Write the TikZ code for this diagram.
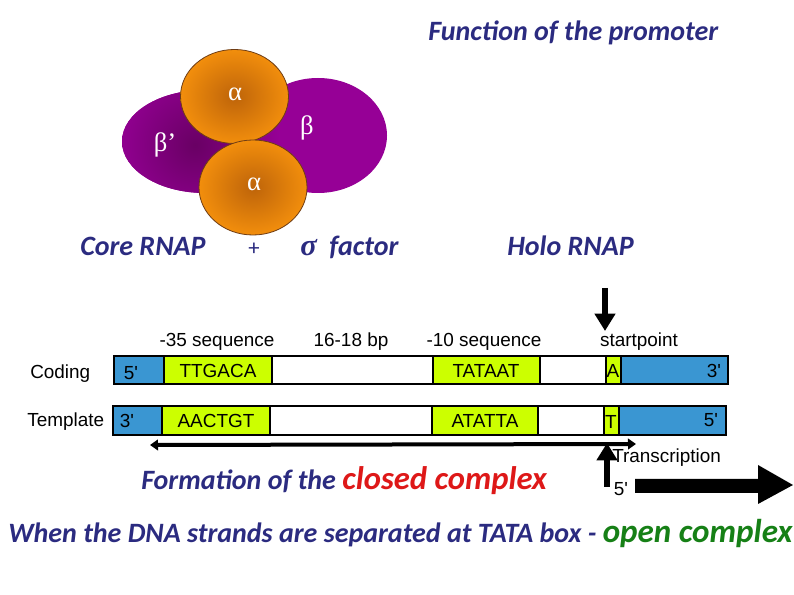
\documentclass[tikz,border=0pt]{standalone}
\usepackage{fontspec}
\setmainfont{Carlito}
\newfontfamily\arialf{Liberation Sans}
\newfontfamily\timesf{Liberation Serif}
\usetikzlibrary{arrows.meta}
\definecolor{navy}{RGB}{43,43,128}
\definecolor{redt}{RGB}{222,24,24}
\definecolor{greent}{RGB}{22,128,22}
\definecolor{purp}{RGB}{150,0,150}
\definecolor{purpD}{RGB}{105,0,100}
\definecolor{orL}{RGB}{242,142,12}
\definecolor{orD}{RGB}{190,100,10}
\definecolor{orEdge}{RGB}{110,60,20}
\definecolor{dnablue}{RGB}{58,150,210}
\definecolor{dnayel}{RGB}{204,255,0}
\tikzset{
  slide/.style={font=\fontsize{21}{24}\selectfont\bfseries\itshape, text=navy, inner sep=0pt},
  greek/.style={font=\timesf\fontsize{20}{22}\selectfont, text=white, inner sep=0pt},
  dnalab/.style={font=\arialf\fontsize{14.2}{17}\selectfont, inner sep=0pt},
  seg/.style={draw=black, line width=0.9pt},
  orangeball/.style={inner color=orD, outer color=orL, draw=orEdge, line width=0.6pt},
  thinarrow/.style={line width=3pt, {Triangle[length=6pt,width=8pt]}-{Triangle[length=6pt,width=8pt]}},
  fatarrow/.style={line width=4.5pt, -{Triangle[length=13pt,width=15pt]}}
}
\begin{document}
\begin{tikzpicture}[x=0.75pt,y=-0.75pt]
\useasboundingbox (0,0) rectangle (794,595);
\fill[white] (0,0) rectangle (794,595);

% title
\node[slide, anchor=base west] (title) at (428,41) {Function of the promoter};

% purple beta subunits
\begin{scope}
  \clip (205,141.5) ellipse [x radius=83, y radius=51.5]
        (318,135.5) ellipse [x radius=69, y radius=57.5];
  \fill[purp] (100,60) rectangle (400,210);
  \shade[inner color=purpD, outer color=purp] (195,145) circle [radius=85];
\end{scope}

% alpha subunits
\shadedraw[orangeball] (234.5,96.5) ellipse [x radius=54, y radius=47];
\shadedraw[orangeball] (253,187.5) ellipse [x radius=54, y radius=47.5];

\node[greek] (a1) at (235,94) {α};
\node[greek] (a2) at (254,184) {α};
\node[greek] (b) at (307,128) {β};
\node[greek] (bp) at (165,145) {β’};

% labels row
\node[slide, anchor=base west] (core) at (80,256) {Core RNAP};
\node[slide, anchor=base, font=\fontsize{17}{20}\selectfont] (plus) at (254,256) {+};
\node[slide, anchor=base west] (sig) at (300,256) {{\timesf\itshape\fontsize{23}{24}\selectfont σ}\ \ factor};
\node[slide, anchor=base west] (holo) at (507,256) {Holo RNAP};

% DNA coding strand
\fill[dnablue] (114,356) rectangle (164,384);
\fill[dnayel] (164,356) rectangle (272,384);
\fill[dnayel] (433,356) rectangle (540,384);
\fill[dnayel] (606,356) rectangle (621,384);
\fill[dnablue] (621,356) rectangle (728,384);
\draw[seg] (114,356) rectangle (728,384);
\foreach \xx in {164,272,433,540,606,621} \draw[seg] (\xx,356) -- (\xx,384);

% DNA template strand
\fill[dnablue] (113,406) rectangle (162,435);
\fill[dnayel] (162,406) rectangle (270,435);
\fill[dnayel] (432,406) rectangle (538,435);
\fill[dnayel] (604,406) rectangle (619,435);
\fill[dnablue] (619,406) rectangle (726,435);
\draw[seg] (113,406) rectangle (726,435);
\foreach \xx in {162,270,432,538,604,619} \draw[seg] (\xx,406) -- (\xx,435);

% DNA texts
\node[dnalab] (m35) at (217,342) {-35 sequence};
\node[dnalab] (gap) at (351,342) {16-18 bp};
\node[dnalab] (m10) at (484,342) {-10 sequence};
\node[dnalab] (sp) at (639,342) {startpoint};
\node[dnalab, anchor=west] (coding) at (30,374) {Coding};
\node[dnalab, anchor=west] (templ) at (27,422) {Template};
\node[dnalab] (c5) at (131,373) {5'};
\node[dnalab] (ttg) at (218,371) {TTGACA};
\node[dnalab] (tata) at (486,371) {TATAAT};
\node[dnalab] (ca) at (613,371) {A};
\node[dnalab] (c3) at (714,371) {3'};
\node[dnalab] (t3) at (127,421) {3'};
\node[dnalab] (aac) at (216,421) {AACTGT};
\node[dnalab] (ata) at (485,421) {ATATTA};
\node[dnalab] (tt) at (611,422) {T};
\node[dnalab] (t5) at (711,420) {5'};
\node[dnalab, anchor=west] (trans) at (612,458) {Transcription};
\node[dnalab] (f5) at (621,489) {5'};

% arrows
\coordinate (dtop) at (605,288);
\coordinate (dbot) at (605,331);
\draw[fatarrow] (dtop) -- (dbot);
\coordinate (ubot) at (607,487);
\coordinate (utop) at (607,443);
\draw[fatarrow, line width=3.8pt] (ubot) -- (utop);
\coordinate (lend) at (150,445);
\coordinate (rend) at (636,444);
\draw[thinarrow] (lend) -- (rend);
\fill[black] (635,479) -- (758,479) -- (758,465) -- (793,485) -- (758,504) -- (758,493) -- (635,493) -- cycle;

% bottom texts
\node[slide, anchor=base west] (closed) at (141,490) {Formation of the {\color{redt}\fontsize{24.5}{26}\selectfont closed complex}};
\node[slide, anchor=base west] (open) at (8,543) {When the DNA strands are separated at TATA box - {\color{greent}\fontsize{24.8}{26}\selectfont open complex}};
\end{tikzpicture}
\end{document}
